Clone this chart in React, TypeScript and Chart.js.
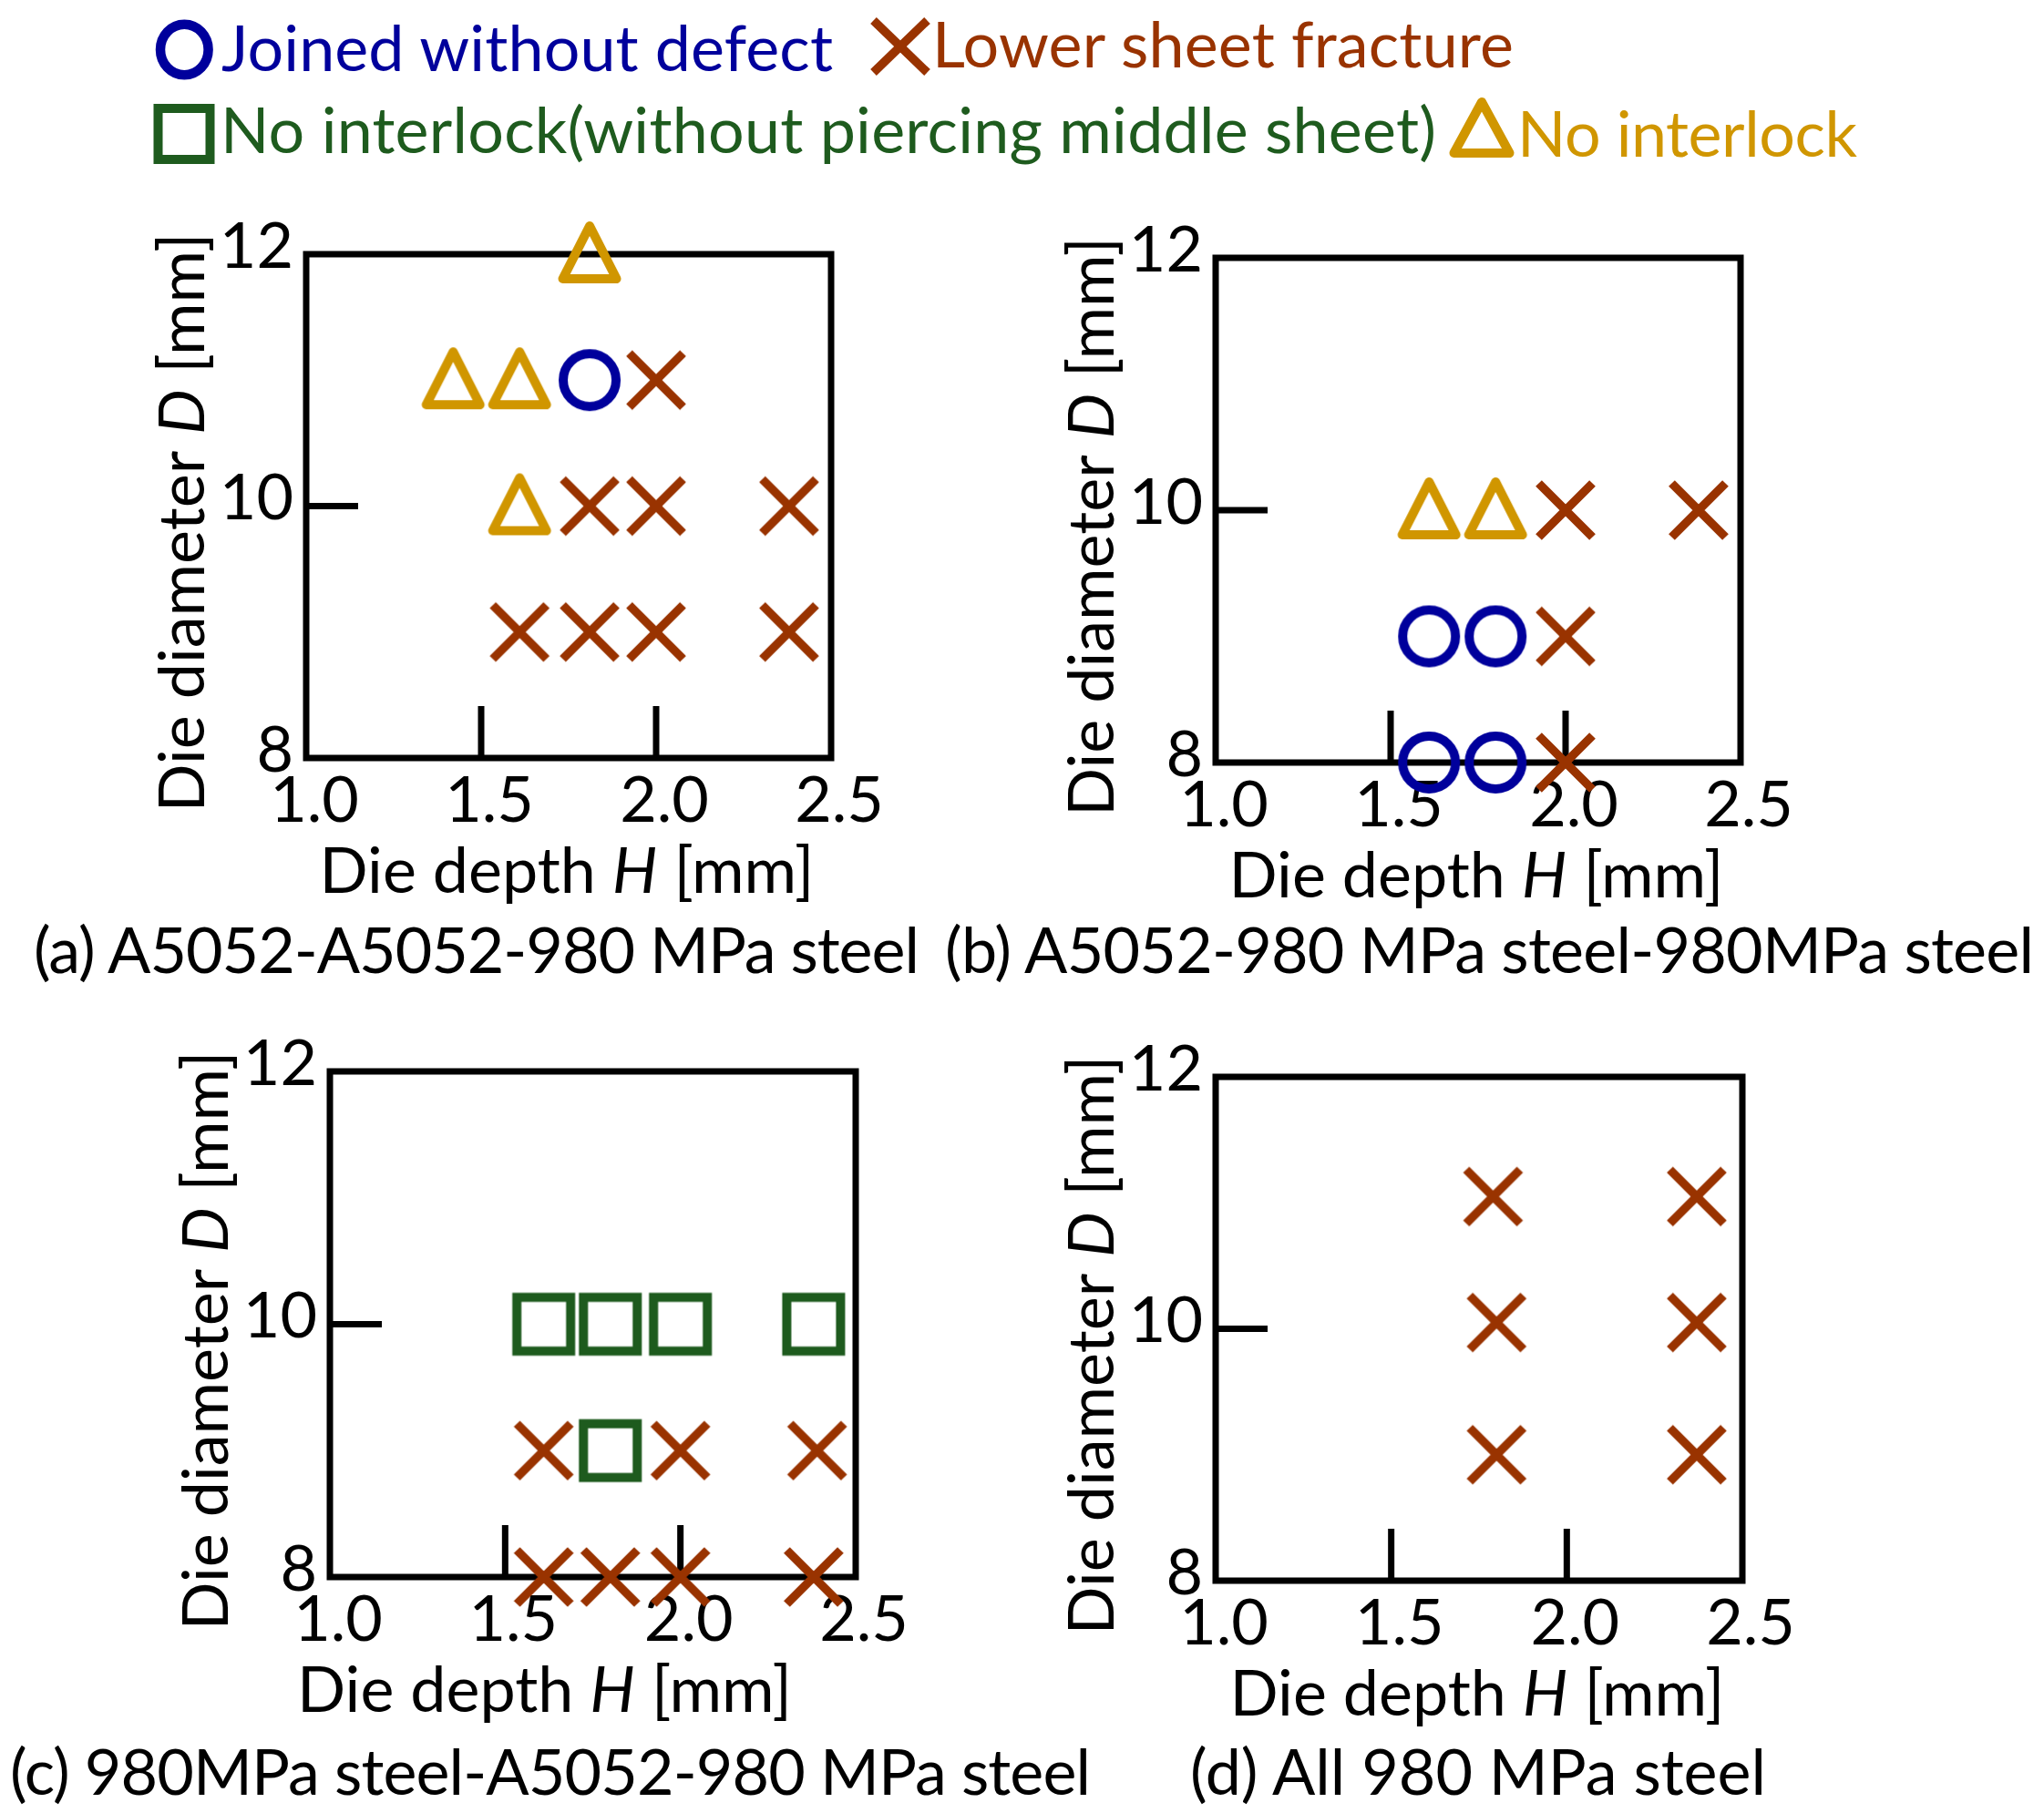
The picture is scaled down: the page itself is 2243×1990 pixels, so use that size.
import React, { useEffect, useRef } from 'react';
import { Chart, registerables } from 'chart.js';

Chart.register(...registerables);

// ---------- Data ----------
const CATEGORY_LABELS = [
  'Joined without defect',
  'Lower sheet fracture',
  'No interlock(without piercing middle sheet)',
  'No interlock',
];

const PANEL_CAPTIONS = [
  '(a) A5052-A5052-980 MPa steel',
  '(b) A5052-980 MPa steel-980MPa steel',
  '(c) 980MPa steel-A5052-980 MPa steel',
  '(d) All 980 MPa steel',
];

const X_TITLE_PARTS = ['Die depth ', 'H', ' [mm]'];
const Y_TITLE_PARTS = ['Die diameter ', 'D', ' [mm]'];
const X_MIN = 1.0;
const X_MAX = 2.5;
const X_STEP = 0.5;
const Y_MIN = 8;
const Y_MAX = 12;
const Y_STEP = 2;

// (a) A5052-A5052-980 MPa steel
const A_JOINED = [{ x: 1.81, y: 11 }];
const A_FRACTURE = [
  { x: 2.0, y: 11 },
  { x: 1.81, y: 10 }, { x: 2.0, y: 10 }, { x: 2.38, y: 10 },
  { x: 1.61, y: 9 }, { x: 1.81, y: 9 }, { x: 2.0, y: 9 }, { x: 2.38, y: 9 },
];
const A_NO_INTERLOCK_PIERCE: { x: number; y: number }[] = [];
const A_NO_INTERLOCK = [
  { x: 1.81, y: 12 },
  { x: 1.42, y: 11 }, { x: 1.61, y: 11 },
  { x: 1.61, y: 10 },
];

// (b) A5052-980 MPa steel-980MPa steel
const B_JOINED = [
  { x: 1.61, y: 9 }, { x: 1.8, y: 9 },
  { x: 1.61, y: 8 }, { x: 1.8, y: 8 },
];
const B_FRACTURE = [
  { x: 2.0, y: 10 }, { x: 2.38, y: 10 },
  { x: 2.0, y: 9 },
  { x: 2.0, y: 8 },
];
const B_NO_INTERLOCK_PIERCE: { x: number; y: number }[] = [];
const B_NO_INTERLOCK = [{ x: 1.61, y: 10 }, { x: 1.8, y: 10 }];

// (c) 980MPa steel-A5052-980 MPa steel
const C_JOINED: { x: number; y: number }[] = [];
const C_FRACTURE = [
  { x: 1.61, y: 9 }, { x: 2.0, y: 9 }, { x: 2.39, y: 9 },
  { x: 1.61, y: 8 }, { x: 1.8, y: 8 }, { x: 2.0, y: 8 }, { x: 2.38, y: 8 },
];
const C_NO_INTERLOCK_PIERCE = [
  { x: 1.61, y: 10 }, { x: 1.8, y: 10 }, { x: 2.0, y: 10 }, { x: 2.38, y: 10 },
  { x: 1.8, y: 9 },
];
const C_NO_INTERLOCK: { x: number; y: number }[] = [];

// (d) All 980 MPa steel
const D_JOINED: { x: number; y: number }[] = [];
const D_FRACTURE = [
  { x: 1.79, y: 11.05 }, { x: 2.37, y: 11.05 },
  { x: 1.8, y: 10.05 }, { x: 2.37, y: 10.05 },
  { x: 1.8, y: 9.0 }, { x: 2.37, y: 9.0 },
];
const D_NO_INTERLOCK_PIERCE: { x: number; y: number }[] = [];
const D_NO_INTERLOCK: { x: number; y: number }[] = [];

const PANEL_DATA = [
  [A_JOINED, A_FRACTURE, A_NO_INTERLOCK_PIERCE, A_NO_INTERLOCK],
  [B_JOINED, B_FRACTURE, B_NO_INTERLOCK_PIERCE, B_NO_INTERLOCK],
  [C_JOINED, C_FRACTURE, C_NO_INTERLOCK_PIERCE, C_NO_INTERLOCK],
  [D_JOINED, D_FRACTURE, D_NO_INTERLOCK_PIERCE, D_NO_INTERLOCK],
];

// ---------- Styles / layout ----------
const COLORS = ['#00009C', '#993300', '#1E5B1E', '#D09600'];
const MARKERS = ['circle', 'cross', 'square', 'triangle'];
const FONT = 'Lato';
const FONT_SIZE = 70;

// plot-area boxes in page pixels: [left, top, right, bottom]
const BOXES = [
  [336, 279, 912, 832],
  [1334, 283, 1910, 837],
  [362, 1176, 939, 1731],
  [1334, 1182, 1912, 1735],
];
// horizontal shift of each panel's x-axis title from the plot centre
const X_TITLE_SHIFT = [-2, -2, -53, -2];
const PAD_L = 250;
const PAD_T = 70;
const PAD_R = 80;
const PAD_B = 190;

function makeMarker(kind: string, color: string): HTMLCanvasElement {
  const c = document.createElement('canvas');
  c.width = 80;
  c.height = 80;
  const g = c.getContext('2d')!;
  const m = 40;
  g.strokeStyle = color;
  g.lineWidth = 10;
  g.beginPath();
  if (kind === 'circle') {
    g.arc(m, m, 29, 0, Math.PI * 2);
  } else if (kind === 'cross') {
    g.lineWidth = 9.5;
    g.lineCap = 'butt';
    const h = 29.5;
    g.moveTo(m - h, m - h);
    g.lineTo(m + h, m + h);
    g.moveTo(m + h, m - h);
    g.lineTo(m - h, m + h);
  } else if (kind === 'square') {
    g.lineJoin = 'miter';
    g.rect(m - 29.5, m - 29.5, 59, 59);
  } else {
    g.lineJoin = 'round';
    g.moveTo(m, m - 31);
    g.lineTo(m + 29.5, m + 27);
    g.lineTo(m - 29.5, m + 27);
    g.closePath();
  }
  g.stroke();
  return c;
}

function drawMixed(ctx: CanvasRenderingContext2D, parts: string[], cx: number, baseY: number) {
  const fonts = parts.map((_, i) => `${i === 1 ? 'italic ' : ''}${FONT_SIZE}px ${FONT}`);
  const widths = parts.map((t, i) => {
    ctx.font = fonts[i];
    return ctx.measureText(t).width;
  });
  const total = widths.reduce((a, b) => a + b, 0);
  let x = cx - total / 2;
  ctx.textAlign = 'left';
  ctx.textBaseline = 'alphabetic';
  ctx.fillStyle = '#000';
  parts.forEach((t, i) => {
    ctx.font = fonts[i];
    ctx.fillText(t, x, baseY);
    x += widths[i];
  });
}

function makeFramePlugin(xTitleShift: number) {
  return {
    id: 'frame',
    beforeDatasetsDraw(chart: any) {
      const { ctx, chartArea, scales } = chart;
      const { left, right, top, bottom } = chartArea;
      const xs = scales.x;
      const ys = scales.y;
      ctx.save();
      ctx.strokeStyle = '#000';
      ctx.lineWidth = 7;
      ctx.lineJoin = 'miter';
      ctx.strokeRect(left, top, right - left, bottom - top);
      const tickLen = 57;
      ctx.beginPath();
      xs.ticks.forEach((t: any) => {
        if (t.value > xs.min + 1e-9 && t.value < xs.max - 1e-9) {
          const px = xs.getPixelForValue(t.value);
          ctx.moveTo(px, bottom);
          ctx.lineTo(px, bottom - tickLen);
        }
      });
      ys.ticks.forEach((t: any) => {
        if (t.value > ys.min + 1e-9 && t.value < ys.max - 1e-9) {
          const py = ys.getPixelForValue(t.value);
          ctx.moveTo(left, py);
          ctx.lineTo(left + tickLen, py);
        }
      });
      ctx.stroke();
      ctx.restore();
    },
    afterDraw(chart: any) {
      const { ctx, chartArea } = chart;
      const { left, right, top, bottom } = chartArea;
      ctx.save();
      drawMixed(ctx, X_TITLE_PARTS, (left + right) / 2 + xTitleShift, bottom + 148);
      ctx.translate(left - 112, (top + bottom) / 2 + 18);
      ctx.rotate(-Math.PI / 2);
      drawMixed(ctx, Y_TITLE_PARTS, 0, 0);
      ctx.restore();
    },
  };
}

function Panel({ index }: { index: number }) {
  const ref = useRef<HTMLCanvasElement | null>(null);
  const [l, t, r, b] = BOXES[index];
  const w = r - l + PAD_L + PAD_R;
  const h = b - t + PAD_T + PAD_B;

  useEffect(() => {
    if (!ref.current) return;
    const markers = MARKERS.map((k, i) => makeMarker(k, COLORS[i]));
    const datasets = PANEL_DATA[index]
      .map((data, i) => ({
        label: CATEGORY_LABELS[i],
        data,
        pointStyle: markers[i],
        pointRadius: 32,
        pointHoverRadius: 32,
        borderColor: COLORS[i],
        backgroundColor: 'transparent',
        showLine: false,
        clip: false as any,
      }))
      .filter((d) => d.data.length > 0);

    const tickFont = { family: FONT, size: FONT_SIZE };
    const chart = new Chart(ref.current, {
      type: 'scatter',
      data: { datasets },
      options: {
        animation: false,
        responsive: false,
        devicePixelRatio: 1,
        events: [],
        layout: { padding: { left: 0, top: PAD_T, right: PAD_R, bottom: 0 } },
        plugins: { legend: { display: false }, tooltip: { enabled: false } },
        scales: {
          x: {
            type: 'linear',
            min: X_MIN,
            max: X_MAX,
            grid: { display: false, drawTicks: false },
            border: { display: false },
            ticks: {
              stepSize: X_STEP,
              autoSkip: false,
              maxRotation: 0,
              minRotation: 0,
              padding: 5,
              labelOffset: 9,
              color: '#000',
              font: tickFont,
              callback: (v: any) => Number(v).toFixed(1),
            },
            afterFit: (s: any) => {
              s.height = PAD_B;
            },
          },
          y: {
            type: 'linear',
            min: Y_MIN,
            max: Y_MAX,
            grid: { display: false, drawTicks: false },
            border: { display: false },
            ticks: {
              stepSize: Y_STEP,
              autoSkip: false,
              padding: 14,
              labelOffset: -8,
              color: '#000',
              font: tickFont,
              callback: (v: any) => String(Number(v)),
            },
            afterFit: (s: any) => {
              s.width = PAD_L;
            },
          },
        },
      } as any,
      plugins: [makeFramePlugin(X_TITLE_SHIFT[index])],
    });
    return () => chart.destroy();
  }, [index]);

  return (
    <canvas
      ref={ref}
      width={w}
      height={h}
      style={{ position: 'absolute', left: l - PAD_L, top: t - PAD_T, width: w, height: h }}
    />
  );
}

const LEGEND_TEXT = [
  { x: 243, y: 78, len: 671 },
  { x: 1023, y: 74, len: 638 },
  { x: 242, y: 168, len: 1334 },
  { x: 1665, y: 172, len: 373 },
];
const CAPTION_TEXT = [
  { x: 37, y: 1068, len: 972 },
  { x: 1037, y: 1068, len: 1195 },
  { x: 11, y: 1970, len: 1186 },
  { x: 1306, y: 1970, len: 632 },
];

function Overlay() {
  return (
    <svg
      width={2243}
      height={1990}
      style={{ position: 'absolute', left: 0, top: 0 }}
      fontFamily={FONT}
      fontSize={FONT_SIZE}
    >
      {/* legend markers */}
      <ellipse cx={202.3} cy={54.5} rx={26.3} ry={27.8} fill="none" stroke={COLORS[0]} strokeWidth={10.5} />
      <g stroke={COLORS[1]} strokeWidth={9.5} strokeLinecap="butt">
        <line x1={988 - 29.5} y1={51 - 28.5} x2={988 + 29.5} y2={51 + 28.5} />
        <line x1={988 + 29.5} y1={51 - 28.5} x2={988 - 29.5} y2={51 + 28.5} />
      </g>
      <rect x={202 - 28.5} y={147 - 28} width={57} height={56} fill="none" stroke={COLORS[2]} strokeWidth={10} />
      <polygon
        points={`1626,112 1656.5,168 1595.5,168`}
        fill="none"
        stroke={COLORS[3]}
        strokeWidth={10}
        strokeLinejoin="round"
      />
      {CATEGORY_LABELS.map((label, i) => (
        <text
          key={label}
          x={LEGEND_TEXT[i].x}
          y={LEGEND_TEXT[i].y}
          fill={COLORS[i]}
          textLength={LEGEND_TEXT[i].len}
          lengthAdjust="spacing"
        >
          {label}
        </text>
      ))}
      {PANEL_CAPTIONS.map((cap, i) => (
        <text
          key={cap}
          x={CAPTION_TEXT[i].x}
          y={CAPTION_TEXT[i].y}
          fill="#000"
          textLength={CAPTION_TEXT[i].len}
          lengthAdjust="spacing"
        >
          {cap}
        </text>
      ))}
    </svg>
  );
}

export default function App() {
  return (
    <div
      style={{
        position: 'absolute',
        left: 0,
        top: 0,
        width: 2243,
        height: 1990,
        overflow: 'hidden',
        background: '#fff',
      }}
    >
      <Overlay />
      {[0, 1, 2, 3].map((i) => (
        <Panel key={i} index={i} />
      ))}
    </div>
  );
}
